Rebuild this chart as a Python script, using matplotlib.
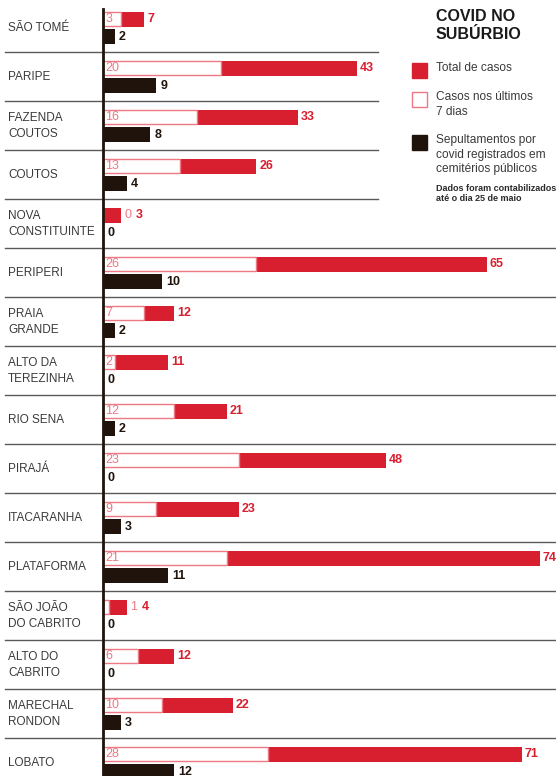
import matplotlib
matplotlib.use("Agg")
import matplotlib.pyplot as plt
import matplotlib.patches as patches

# Data
bairros = ["SÃO TOMÉ", "PARIPE", "FAZENDA\nCOUTOS", "COUTOS", "NOVA\nCONSTITUINTE",
           "PERIPERI", "PRAIA\nGRANDE", "ALTO DA\nTEREZINHA", "RIO SENA", "PIRAJÁ",
           "ITACARANHA", "PLATAFORMA", "SÃO JOÃO\nDO CABRITO", "ALTO DO\nCABRITO",
           "MARECHAL\nRONDON", "LOBATO"]
total_casos = [7, 43, 33, 26, 3, 65, 12, 11, 21, 48, 23, 74, 4, 12, 22, 71]
casos_7dias = [3, 20, 16, 13, 0, 26, 7, 2, 12, 23, 9, 21, 1, 6, 10, 28]
sepultamentos = [2, 9, 8, 4, 0, 10, 2, 0, 2, 0, 3, 11, 0, 0, 3, 12]

RED = "#d71f2f"
LIGHT = "#ee7884"
DARK = "#1f130b"
TXT = "#3a3a3a"
LINE = "#5a5a5a"
FONT = ["Liberation Sans Narrow", "Liberation Sans", "DejaVu Sans"]
plt.rcParams["font.family"] = FONT

W, H = 556, 776
PX = 5.9      # pixels per case
X0 = 103      # pixel position of zero
ROW = 49      # row height in pixels
TOP = 3

fig = plt.figure(figsize=(W / 100, H / 100), dpi=100)
ax = fig.add_axes([0, 0, 1, 1])
ax.set_xlim(-X0 / PX, (W - X0) / PX)
ax.set_ylim((H - TOP) / ROW, -TOP / ROW)
ax.axis("off")

n = len(bairros)
y_red = [i + 16 / ROW for i in range(n)]
y_blk = [i + 33.5 / ROW for i in range(n)]
h_red = 15 / ROW
h_blk = 15 / ROW

ax.barh(y_red, total_casos, height=h_red, color=RED, zorder=2)
ax.barh(y_red, casos_7dias, height=h_red - 0.02, color="white", edgecolor=LIGHT,
        linewidth=1, zorder=3)
ax.barh(y_blk, sepultamentos, height=h_blk, color=DARK, zorder=2)

pad = 3 / PX
for i in range(n):
    ax.text(8 / PX - X0 / PX, i + 25 / ROW, bairros[i], ha="left", va="center",
            fontsize=8.5, color=TXT, linespacing=1.35)
    if casos_7dias[i] <= 1:
        t = ax.text(total_casos[i] + pad * 1.5, y_red[i], str(casos_7dias[i]) + " ",
                    ha="left", va="center", fontsize=9, color=LIGHT)
        fig.canvas.draw()
        bb = t.get_window_extent().transformed(ax.transData.inverted())
        ax.text(bb.x1, y_red[i], str(total_casos[i]), ha="left", va="center",
                fontsize=9, color=RED, fontweight="bold")
    else:
        ax.text(0.4, y_red[i], str(casos_7dias[i]), ha="left", va="center",
                fontsize=9, color=LIGHT, zorder=4)
        ax.text(total_casos[i] + pad, y_red[i], str(total_casos[i]), ha="left",
                va="center", fontsize=9, color=RED, fontweight="bold")
    ax.text(sepultamentos[i] + pad + 0.2, y_blk[i], str(sepultamentos[i]), ha="left",
            va="center", fontsize=9, color=DARK, fontweight="bold")

# separators
for i in range(1, n):
    x_end = 378 if i <= 4 else W
    ax.plot([(5 - X0) / PX, (x_end - X0) / PX], [i, i], color=LINE, lw=1, zorder=1)

# vertical axis
ax.plot([0, 0], [(9 - TOP) / ROW, (H - TOP) / ROW], color=DARK, lw=2, zorder=5)


# legend (figure pixel coordinates)
def fx(x):
    return x / W


def fy(y):
    return 1 - y / H


fig.text(fx(436), fy(9), "COVID NO\nSUBÚRBIO", ha="left", va="top", fontsize=11.5,
         fontweight="bold", color="#1a1a1a", linespacing=1.25)

items = [(RED, RED, 63, "Total de casos"),
         ("white", LIGHT, 92, "Casos nos últimos\n7 dias"),
         (DARK, DARK, 135, "Sepultamentos por\ncovid registrados em\ncemitérios públicos")]
for fc, ec, y, label in items:
    r = patches.Rectangle((fx(412), fy(y + 15)), 15 / W, 15 / H, facecolor=fc,
                          edgecolor=ec, lw=1, transform=fig.transFigure)
    fig.patches.append(r)
    fig.text(fx(436), fy(y - 1), label, ha="left", va="top", fontsize=8.6,
             color=TXT, linespacing=1.3)

fig.text(fx(436), fy(184), "Dados foram contabilizados\naté o dia 25 de maio",
         ha="left", va="top", fontsize=6.5, fontweight="bold", color="#2a2a2a",
         linespacing=1.15)

fig.savefig("out.png", dpi=100)
